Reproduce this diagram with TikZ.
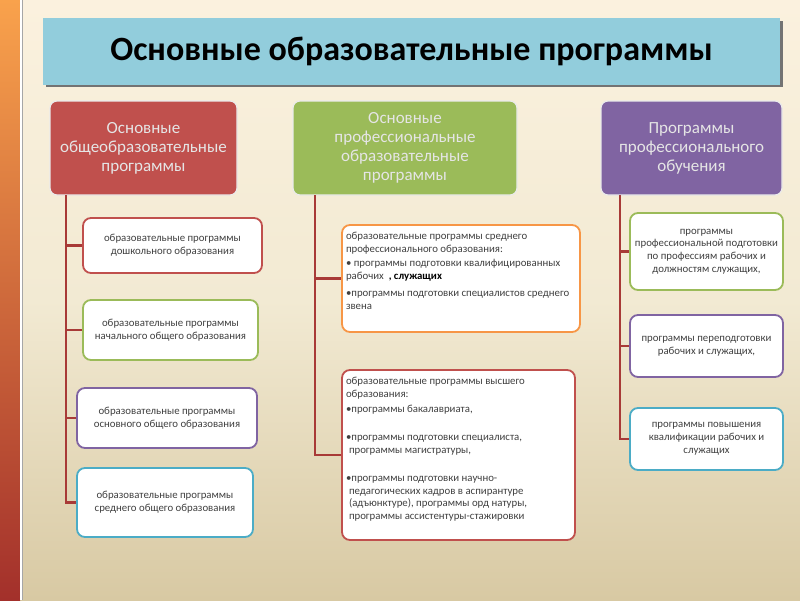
\documentclass[tikz,border=0pt]{standalone}
\usepackage{fontspec}
\setmainfont{Carlito}
\definecolor{bgtop}{HTML}{FBF1DE}
\definecolor{bgmid}{HTML}{F2EAD3}
\definecolor{bgbot}{HTML}{D8C9A3}
\definecolor{strtop}{HTML}{F9A24C}
\definecolor{strmid}{HTML}{F57C12}
\definecolor{strbot}{HTML}{A3302B}
\definecolor{titlebg}{HTML}{92CDDC}
\definecolor{cred}{HTML}{C0504D}
\definecolor{cgreen}{HTML}{9BBB59}
\definecolor{cpurple}{HTML}{8064A2}
\definecolor{ccyan}{HTML}{4BACC6}
\definecolor{corange}{HTML}{F79646}
\definecolor{cline}{HTML}{A83A37}
\definecolor{txt}{HTML}{404040}
\tikzset{
  headbox/.style={draw=white!92!black, line width=1.2pt, rounded corners=7pt, align=center,
    font=\fontsize{17}{19}\selectfont, text=white!90!black},
  kidbox/.style={fill=white, line width=1.8pt, rounded corners=8pt, align=center,
    font=\fontsize{10.8}{12.8}\selectfont, text=txt},
  conn/.style={draw=cline, line width=2.6pt}
}
\begin{document}
\begin{tikzpicture}[x=1pt,y=-1pt]
\useasboundingbox (0,0) rectangle (800,600);
% background
\shade[top color=bgtop, bottom color=bgbot, middle color=bgmid] (0,0) rectangle (800,600);
\shade[top color=strtop, middle color=strmid, bottom color=strbot] (0,0) rectangle (20,600);
\fill[white] (20,0) rectangle (22,600);
\fill[gray!70] (22,0) rectangle (23,600);
% title
\fill[black!55] (46,21) rectangle (783,87);
\node[fill=titlebg, minimum width=737pt, minimum height=67pt, inner sep=0pt,
  font=\fontsize{34}{38}\selectfont\bfseries] (title) at (411.5,51.5) {Основные образовательные программы};
% heads
\node[headbox, fill=cred, minimum width=187pt, minimum height=94pt] (h1) at (143.5,148)
  {Основные\\общеобразовательные\\программы};
\node[headbox, fill=cgreen, minimum width=224pt, minimum height=94pt] (h2) at (405,148)
  {Основные\\профессиональные\\образовательные\\программы};
\node[headbox, fill=cpurple, minimum width=181pt, minimum height=94pt] (h3) at (691.5,148)
  {Программы\\профессионального\\обучения};
% left column
\node[kidbox, draw=cred, minimum width=179pt, minimum height=55pt] (l1) at (172.5,245.5)
  {образовательные программы\\дошкольного образования};
\node[kidbox, draw=cgreen, minimum width=175pt, minimum height=60pt] (l2) at (170.5,330)
  {образовательные программы\\начального общего образования};
\node[kidbox, draw=cpurple, minimum width=180pt, minimum height=60pt] (l3) at (167,418)
  {образовательные программы\\основного общего образования};
\node[kidbox, draw=ccyan, minimum width=176pt, minimum height=69pt] (l4) at (165,502.5)
  {образовательные программы\\среднего общего образования};
% middle column
\node[kidbox, draw=corange, inner sep=4pt] (m1) at (461,278.5)
  {\parbox[c][99pt][t]{230pt}{\raggedright\vspace*{3pt}
   образовательные программы среднего\\профессионального образования:\\[2pt]
   • программы подготовки квалифицированных\\рабочих \ {\bfseries\color{black}, служащих}\\[4pt]
   •программы подготовки специалистов среднего\\звена}};
\node[kidbox, draw=cred, inner sep=4pt] (m2) at (458.5,455)
  {\parbox[c][162pt][t]{225pt}{\raggedright\vspace*{3pt}
   образовательные программы высшего\\образования:\\[3pt]
   •программы бакалавриата,\\[15pt]
   •программы подготовки специалиста,\\\hspace*{3pt}программы магистратуры,\\[15pt]
   •программы подготовки научно-\\\hspace*{3pt}педагогических кадров в аспирантуре\\\hspace*{3pt}(адъюнктуре), программы орд натуры,\\\hspace*{3pt}программы ассистентуры-стажировки}};
% right column
\node[kidbox, draw=cgreen, minimum width=153pt, minimum height=77pt] (r1) at (706.5,251.5)
  {программы\\профессиональной подготовки\\по профессиям рабочих и\\должностям служащих,};
\node[kidbox, draw=cpurple, minimum width=153pt, minimum height=62pt] (r2) at (706.5,346)
  {программы переподготовки\\рабочих и служащих,};
\node[kidbox, draw=ccyan, minimum width=153pt, minimum height=62pt] (r3) at (706.5,439)
  {программы повышения\\квалификации рабочих и\\служащих};
% connectors
\coordinate (lt) at (66,195);
\coordinate (mt) at (315,195);
\coordinate (rt) at (620,195);
\draw[conn] (lt) |- (l4.west);
\draw[conn] (l1.west -| lt) -- (l1.west);
\draw[conn] (l2.west -| lt) -- (l2.west);
\draw[conn] (l3.west -| lt) -- (l3.west);
\draw[conn] (mt) |- (m2.west);
\draw[conn] (m1.west -| mt) -- (m1.west);
\draw[conn] (rt) |- (r3.west);
\draw[conn] (r1.west -| rt) -- (r1.west);
\draw[conn] (r2.west -| rt) -- (r2.west);
\end{tikzpicture}
\end{document}
